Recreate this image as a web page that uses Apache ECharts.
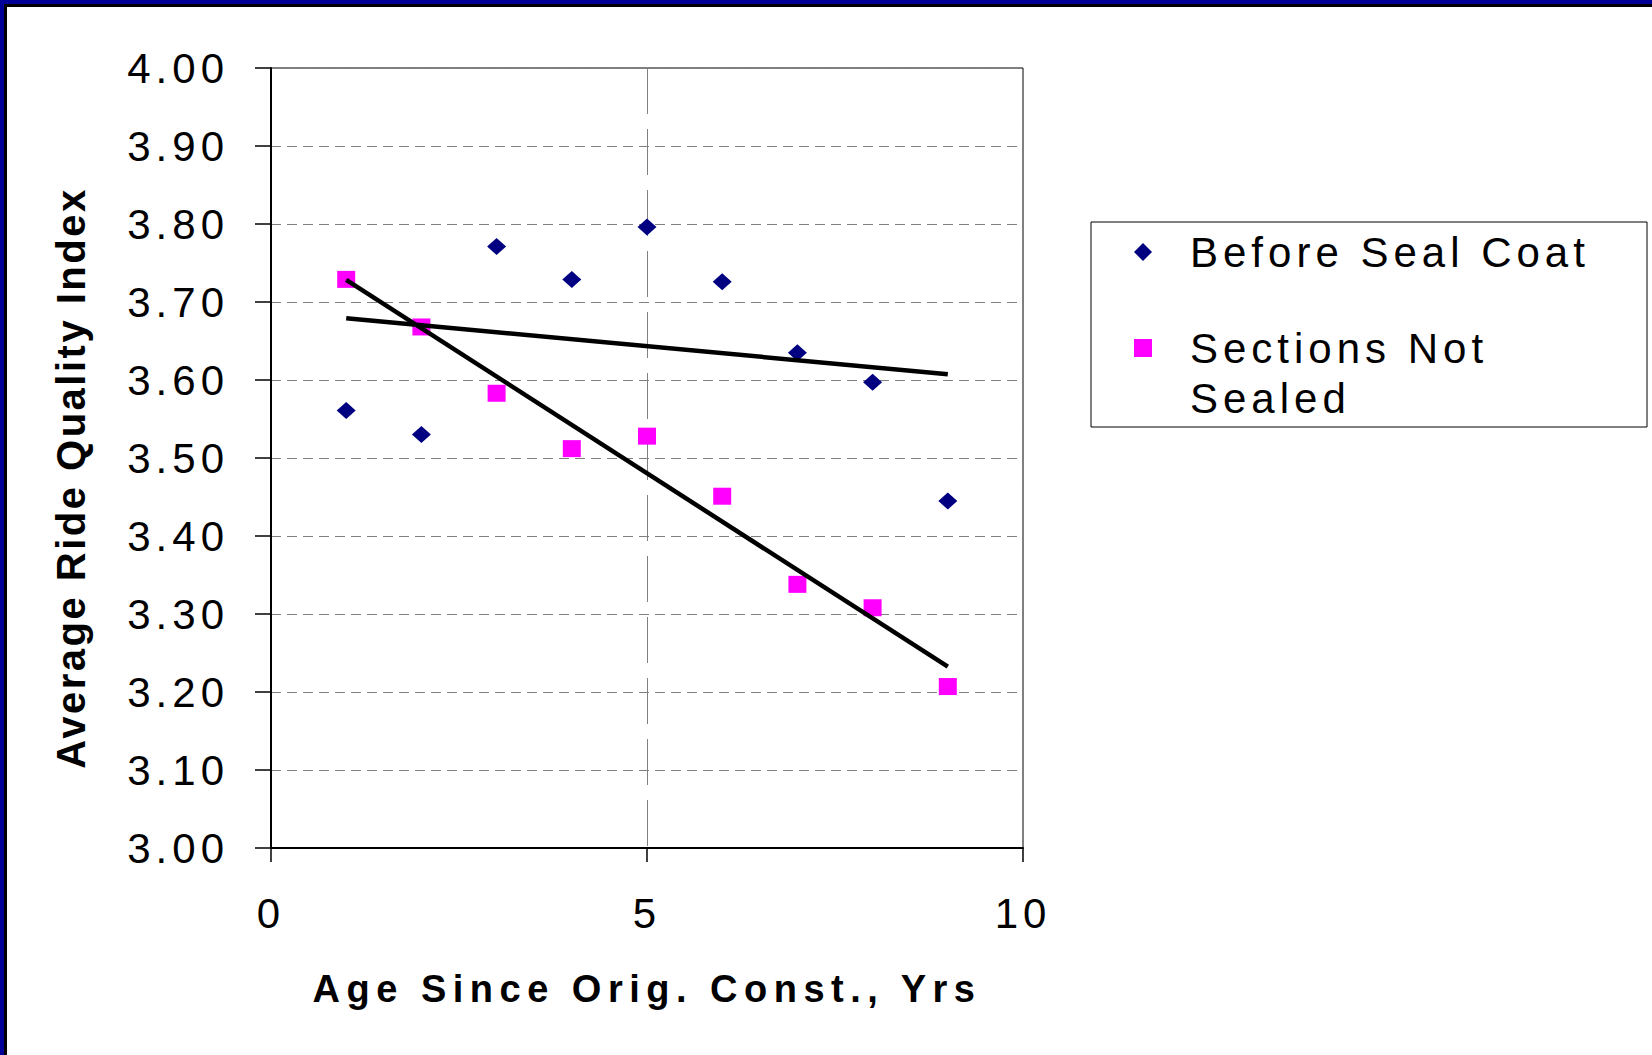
<!DOCTYPE html>
<html>
<head>
<meta charset="utf-8">
<script src="https://cdn.jsdelivr.net/npm/echarts@6/dist/echarts.min.js"></script>
<style>
  html, body { margin: 0; padding: 0; background: #fff; }
  #chart { width: 1652px; height: 1055px; }
  #chart text { letter-spacing: 5px; }
  #chart text[style*="38px"] { letter-spacing: 6.5px; }
  #chart text[style*="40px"] { letter-spacing: 2.5px; }
</style>
</head>
<body>
<div id="chart"></div>
<script>
const ages = [1, 2, 3, 4, 5, 6, 7, 8, 9];
const beforeSealCoat = [3.561, 3.530, 3.771, 3.729, 3.796, 3.726, 3.635, 3.597, 3.445];
const sectionsNotSealed = [3.729, 3.668, 3.583, 3.512, 3.528, 3.451, 3.338, 3.308, 3.207];
const seriesNames = ['Before Seal Coat', 'Sections Not Sealed'];
const xAxisTitle = 'Age Since Orig. Const., Yrs';
const yAxisTitle = 'Average Ride Quality Index';

const FONT = '"Liberation Sans", Arial, Helvetica, sans-serif';

function pairs(xs, ys) { return xs.map((x, i) => [x, ys[i]]); }
function trend(xs, ys) {
  const n = xs.length;
  const mx = xs.reduce((a, b) => a + b, 0) / n;
  const my = ys.reduce((a, b) => a + b, 0) / n;
  let sxy = 0, sxx = 0;
  for (let i = 0; i < n; i++) { sxy += (xs[i] - mx) * (ys[i] - my); sxx += (xs[i] - mx) * (xs[i] - mx); }
  const b = sxy / sxx, a = my - b * mx;
  const x0 = Math.min(...xs), x1 = Math.max(...xs);
  return [[x0, a + b * x0], [x1, a + b * x1]];
}

const chart = echarts.init(document.getElementById('chart'), null, { renderer: 'svg' });
chart.setOption({
  animation: false,
  backgroundColor: '#fff',
  graphic: [
    { type: 'rect', shape: { x: 0, y: 0, width: 1652, height: 4 }, style: { fill: '#000099' }, z: 100 },
    { type: 'rect', shape: { x: 0, y: 4, width: 1652, height: 3 }, style: { fill: '#000' }, z: 100 },
    { type: 'rect', shape: { x: 0, y: 0, width: 4, height: 1055 }, style: { fill: '#000099' }, z: 100 },
    { type: 'rect', shape: { x: 4, y: 4, width: 3, height: 1051 }, style: { fill: '#000' }, z: 100 }
  ],
  grid: {
    left: 271, top: 68, width: 752, height: 780,
    show: true, borderColor: '#000', borderWidth: 1, backgroundColor: 'transparent'
  },
  xAxis: {
    type: 'value', min: 0, max: 10, interval: 5,
    name: xAxisTitle, nameLocation: 'middle', nameGap: 122,
    nameTextStyle: { fontSize: 38, fontWeight: 'bold', fontFamily: FONT, color: '#000' },
    axisLine: { show: true, onZero: false, lineStyle: { color: '#000', width: 2 } },
    axisTick: { show: true, inside: false, length: 14, lineStyle: { color: '#000', width: 1.5 } },
    axisLabel: { fontSize: 42, fontFamily: FONT, color: '#000', margin: 44 },
    splitLine: { show: true, lineStyle: { color: '#808080', width: 1, type: [46, 15] } }
  },
  yAxis: {
    type: 'value', min: 3, max: 4, interval: 0.1,
    name: yAxisTitle, nameLocation: 'middle', nameGap: 180, nameRotate: 90,
    nameTextStyle: { fontSize: 40, fontWeight: 'bold', fontFamily: FONT, color: '#000', padding: [0, 40, 0, 0] },
    axisLine: { show: true, onZero: false, lineStyle: { color: '#000', width: 2 } },
    axisTick: { show: true, inside: false, length: 16, lineStyle: { color: '#000', width: 1.5 } },
    axisLabel: { fontSize: 42, fontFamily: FONT, color: '#000', margin: 42, formatter: v => v.toFixed(2) },
    splitLine: { show: true, lineStyle: { color: '#808080', width: 1, type: [10, 6] } }
  },
  legend: {
    orient: 'vertical', left: 1091, top: 222,
    padding: [5, 7, 4, 43], itemGap: -4, itemWidth: 18, itemHeight: 18,
    borderColor: '#000', borderWidth: 1, backgroundColor: '#fff',
    selectedMode: false,
    textStyle: { fontSize: 42, fontFamily: FONT, color: '#000', width: 450, lineHeight: 50, padding: [0, 0, 0, 33] },
    data: [
      { name: seriesNames[0], icon: 'diamond' },
      { name: seriesNames[1], icon: 'rect' }
    ],
    formatter: name => name === seriesNames[1] ? '\nSections Not\nSealed' : name
  },
  series: [
    {
      name: seriesNames[0], type: 'scatter', symbol: 'diamond', symbolSize: [19, 17],
      itemStyle: { color: '#000080', opacity: 1 }, data: pairs(ages, beforeSealCoat), z: 3
    },
    {
      name: seriesNames[1], type: 'scatter', symbol: 'rect', symbolSize: [18, 17],
      itemStyle: { color: '#FF00FF', opacity: 1 }, data: pairs(ages, sectionsNotSealed), z: 3
    },
    {
      name: 'trend-before', type: 'line', symbol: 'none', silent: true,
      lineStyle: { color: '#000', width: 4.5 }, data: trend(ages, beforeSealCoat), z: 4
    },
    {
      name: 'trend-not-sealed', type: 'line', symbol: 'none', silent: true,
      lineStyle: { color: '#000', width: 4.5 }, data: trend(ages, sectionsNotSealed), z: 4
    }
  ]
});
</script>
</body>
</html>
